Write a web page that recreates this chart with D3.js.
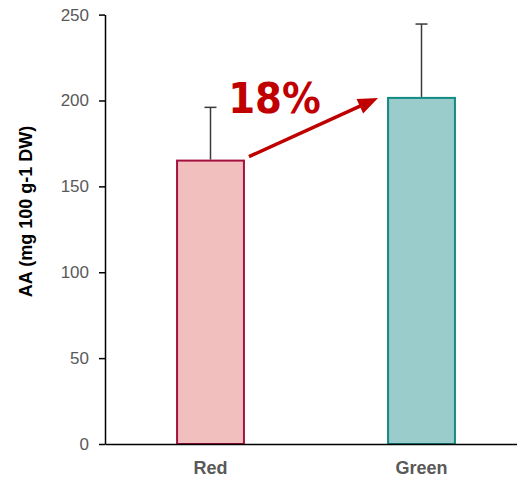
<!DOCTYPE html>
<html>
<head>
<meta charset="utf-8">
<script src="https://cdn.jsdelivr.net/npm/d3@7"></script>
<style>
  html, body { margin: 0; padding: 0; background: #fff; }
  svg { display: block; }
</style>
</head>
<body>
<svg id="chart" width="517" height="482"></svg>
<script>
const categories = ["Red", "Green"];
const values = [165, 201.5];
const errors = [31, 43];
const yTicks = [0, 50, 100, 150, 200, 250];
const fills = ["#f2bfbf", "#99cccb"];
const strokes = ["#a3123f", "#148a84"];
const annotation = "18%";
const yLabel = "AA (mg 100 g-1 DW)";

const svg = d3.select("#chart");
const x0 = 105, x1 = 527, yTop = 14.6, yBot = 444;

const x = d3.scaleBand().domain(categories).range([x0, x1])
  .paddingInner(0.683).paddingOuter(0.3415);
const y = d3.scaleLinear().domain([0, 250]).range([yBot, yTop]);
const bw = x.bandwidth();

// bars
svg.selectAll("rect.bar").data(categories).enter().append("rect")
  .attr("class", "bar")
  .attr("x", d => x(d))
  .attr("y", (d, i) => y(values[i]))
  .attr("width", bw)
  .attr("height", (d, i) => yBot - y(values[i]))
  .attr("fill", (d, i) => fills[i])
  .attr("stroke", (d, i) => strokes[i])
  .attr("stroke-width", 2);

// error bars
const eg = svg.selectAll("g.err").data(categories).enter().append("g").attr("class", "err");
eg.append("line")
  .attr("x1", d => x(d) + bw / 2).attr("x2", d => x(d) + bw / 2)
  .attr("y1", (d, i) => y(values[i]) - 1).attr("y2", (d, i) => y(values[i] + errors[i]))
  .attr("stroke", "#3a3a3a").attr("stroke-width", 1.5);
eg.append("line")
  .attr("x1", d => x(d) + bw / 2 - 6).attr("x2", d => x(d) + bw / 2 + 6)
  .attr("y1", (d, i) => y(values[i] + errors[i])).attr("y2", (d, i) => y(values[i] + errors[i]))
  .attr("stroke", "#3a3a3a").attr("stroke-width", 1.5);

// y axis
const yAxis = d3.axisLeft(y).tickValues(yTicks).tickSize(6).tickPadding(10).tickSizeOuter(0);
const ga = svg.append("g").attr("transform", `translate(${x0},0)`).call(yAxis);
ga.select(".domain").attr("stroke", "#000").attr("stroke-width", 1.5);
ga.selectAll(".tick line").attr("stroke", "#000").attr("stroke-width", 1.5);
ga.selectAll(".tick text").attr("fill", "#595959")
  .style("font-family", "'Liberation Sans', Arial, sans-serif").style("font-size", "17px");

// x axis
const xAxis = d3.axisBottom(x).tickSize(0).tickPadding(17);
const gx = svg.append("g").attr("transform", `translate(0,${yBot})`).call(xAxis);
gx.select(".domain").attr("stroke", "#000").attr("stroke-width", 1.5);
gx.selectAll(".tick text").attr("fill", "#595959")
  .style("font-family", "'Liberation Sans', Arial, sans-serif").style("font-size", "18px")
  .style("font-weight", "bold");

// y label
svg.append("text")
  .attr("transform", "translate(32,211.5) rotate(-90)")
  .attr("text-anchor", "middle")
  .style("font-family", "'Liberation Sans', Arial, sans-serif")
  .style("font-size", "18px").style("font-weight", "bold")
  .attr("fill", "#000")
  .text(yLabel);

// arrow
const ax1 = x("Red") + bw + 5, ay1 = y(values[0]) - 4;
const ax2 = x("Green") - 10, ay2 = y(values[1]);
const ang = Math.atan2(ay2 - ay1, ax2 - ax1);
const headL = 20, headW = 8;
const bx = ax2 - headL * Math.cos(ang), by = ay2 - headL * Math.sin(ang);
svg.append("line")
  .attr("x1", ax1).attr("y1", ay1).attr("x2", bx + 2 * Math.cos(ang)).attr("y2", by + 2 * Math.sin(ang))
  .attr("stroke", "#c00000").attr("stroke-width", 3.5);
svg.append("polygon")
  .attr("points", [
    [ax2, ay2],
    [bx + headW * Math.sin(ang), by - headW * Math.cos(ang)],
    [bx - headW * Math.sin(ang), by + headW * Math.cos(ang)]
  ].map(p => p.join(",")).join(" "))
  .attr("fill", "#c00000");

svg.append("text")
  .attr("x", 274.5).attr("y", 112.5)
  .attr("text-anchor", "middle")
  .style("font-family", "'DejaVu Sans Condensed', 'DejaVu Sans', sans-serif")
  .style("font-stretch", "condensed")
  .style("font-size", "43px").style("font-weight", "bold")
  .attr("fill", "#c00000")
  .text(annotation);
</script>
</body>
</html>
